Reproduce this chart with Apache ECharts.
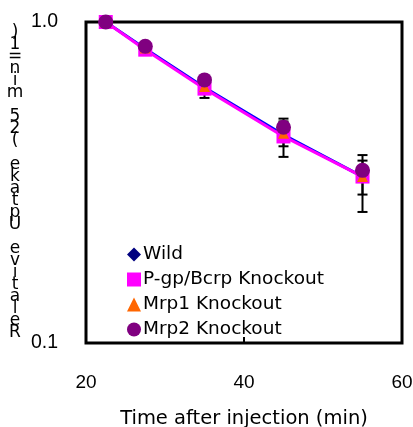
<!DOCTYPE html>
<html>
<head>
<meta charset="utf-8">
<script src="https://cdn.jsdelivr.net/npm/echarts@6/dist/echarts.min.js"></script>
<style>html,body{margin:0;padding:0;background:#fff}</style>
</head>
<body>
<div id="main" style="width:413px;height:427px;"></div>
<script type="text/javascript">
var times = [22.5, 27.5, 35, 45, 55];
var wild = [1.0, 0.825, 0.625, 0.445, 0.33];
var pgp = [1.0, 0.82, 0.62, 0.44, 0.33];
var mrp1 = [1.0, 0.83, 0.63, 0.45, 0.33];
var mrp2 = [1.0, 0.84, 0.66, 0.47, 0.345];
// error bar ends
var wildLo = [1.0, 0.825, 0.61, 0.41, 0.29];
var wildHi = [1.0, 0.825, 0.65, 0.49, 0.37];
var pgpLo = [1.0, 0.82, 0.58, 0.38, 0.256];
var pgpHi = [1.0, 0.82, 0.66, 0.50, 0.385];
var xTicks = [20, 40, 60];
var yTicks = [0.1, 1.0];

function pairs(ys) {
    return times.map(function (t, i) { return [t, ys[i]]; });
}
function bars(lo, hi) {
    return times.map(function (t, i) { return [t, lo[i], hi[i]]; });
}
function errItem(params, api) {
    var x = api.value(0);
    var lo = api.coord([x, api.value(1)]);
    var hi = api.coord([x, api.value(2)]);
    var w = 5;
    var st = {stroke: '#000', lineWidth: 2};
    return {
        type: 'group',
        children: [
            {type: 'line', shape: {x1: lo[0], y1: lo[1], x2: hi[0], y2: hi[1]}, style: st},
            {type: 'line', shape: {x1: lo[0] - w, y1: lo[1], x2: lo[0] + w, y2: lo[1]}, style: st},
            {type: 'line', shape: {x1: hi[0] - w, y1: hi[1], x2: hi[0] + w, y2: hi[1]}, style: st}
        ]
    };
}

var yName = 'Relative Uptake (25 min=1)'.split('').reverse().join('\n');

var myChart = echarts.init(document.getElementById('main'));
var option = {
    animation: false,
    grid: {left: 86, right: 11, top: 22, bottom: 84, outerBoundsMode: 'none',
        show: true, borderColor: '#000', borderWidth: 3},
    xAxis: {
        type: 'value', min: 20, max: 60, interval: 20,
        axisLine: {show: false},
        axisTick: {show: true, inside: true, length: 6, lineStyle: {color: '#000', width: 2}},
        splitLine: {show: false},
        axisLabel: {
            color: '#000', fontSize: 19, fontFamily: 'Liberation Sans', margin: 30,
            formatter: function (v) { return xTicks.indexOf(v) >= 0 ? String(v) : ''; }
        },
        name: 'Time after injection (min)', nameLocation: 'middle', nameGap: 66,
        nameTextStyle: {color: '#000', fontSize: 19.5, fontFamily: 'DejaVu Sans'}
    },
    yAxis: {
        type: 'log', logBase: 10, min: 0.1, max: 1,
        axisLine: {show: false},
        axisTick: {show: false},
        minorTick: {show: false},
        splitLine: {show: false},
        axisLabel: {
            color: '#000', fontSize: 19.5, fontFamily: 'Liberation Sans', margin: 28, align: 'right',
            formatter: function (v) { return yTicks.indexOf(Math.round(v * 10) / 10) >= 0 ? v.toFixed(1) : ''; }
        },
        name: yName, nameLocation: 'middle', nameGap: 71, nameRotate: 0, nameMoveOverlap: false,
        nameTextStyle: {color: '#000', fontSize: 17, lineHeight: 12, fontFamily: 'DejaVu Sans', align: 'center'}
    },
    legend: {
        orient: 'vertical', left: 122, top: 240, itemGap: 6, itemWidth: 14, itemHeight: 14,
        textStyle: {color: '#000', fontSize: 18.5, lineHeight: 16.5, fontFamily: 'DejaVu Sans', padding: [0, 0, 0, -3]},
        data: [
            {name: 'Wild', icon: 'diamond'},
            {name: 'P-gp/Bcrp Knockout', icon: 'rect'},
            {name: 'Mrp1 Knockout', icon: 'triangle'},
            {name: 'Mrp2 Knockout', icon: 'circle'}
        ]
    },
    series: [
        {type: 'custom', renderItem: errItem, data: bars(wildLo, wildHi), z: 1, silent: true},
        {type: 'custom', renderItem: errItem, data: bars(pgpLo, pgpHi), z: 1, silent: true},
        {name: 'Wild', type: 'line', data: pairs(wild), symbol: 'diamond', symbolSize: 11,
            itemStyle: {color: '#000080'}, lineStyle: {color: '#0000ff', width: 3}, z: 3},
        {name: 'P-gp/Bcrp Knockout', type: 'line', data: pairs(pgp), symbol: 'rect', symbolSize: 14,
            itemStyle: {color: '#ff00ff'}, lineStyle: {color: '#ff00ff', width: 3}, z: 4},
        {name: 'Mrp1 Knockout', type: 'line', data: pairs(mrp1), symbol: 'triangle', symbolSize: 11,
            itemStyle: {color: '#ff6600'}, lineStyle: {width: 0}, z: 5},
        {name: 'Mrp2 Knockout', type: 'line', data: pairs(mrp2), symbol: 'circle', symbolSize: 15,
            itemStyle: {color: '#800080'}, lineStyle: {width: 0}, z: 6}
    ]
};
myChart.setOption(option);
</script>
</body>
</html>
